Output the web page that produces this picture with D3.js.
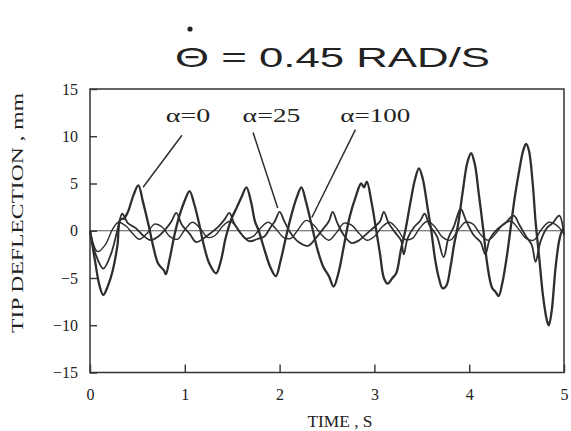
<!DOCTYPE html>
<html>
<head>
	<meta charset="UTF-8">
	<title>Tip deflection</title>
	<script src="https://d3js.org/d3.v7.min.js"></script>
	<style>
		body { margin: 0; background: #fff; }
		.frame { fill: none; stroke: #333; stroke-width: 1.5px; }
		.curve { fill: none; stroke: #2e2e2e; stroke-linejoin: round; }
		.tick line { stroke: #333; stroke-width: 1.4px; }
		.tick text { font-family: "Liberation Serif", serif; font-size: 16px; fill: #222; }
		.domain { display: none; }
	</style>
</head>
<body>
	<script>
		// values (time in s, deflection in mm)
		var alpha0T = [0, 0.05, 0.10, 0.14, 0.19, 0.24, 0.29, 0.32, 0.36, 0.40, 0.46, 0.51, 0.56, 0.62, 0.67, 0.72, 0.78, 0.80, 0.84, 0.89, 0.94, 1.00, 1.05, 1.10, 1.15, 1.20, 1.26, 1.33, 1.38, 1.43, 1.49, 1.55, 1.60, 1.65, 1.70, 1.74, 1.78, 1.84, 1.90, 1.96, 2.01, 2.06, 2.12, 2.18, 2.23, 2.28, 2.34, 2.40, 2.46, 2.52, 2.57, 2.62, 2.68, 2.74, 2.80, 2.86, 2.89, 2.92, 2.97, 3.02, 3.06, 3.10, 3.14, 3.19, 3.23, 3.28, 3.33, 3.38, 3.43, 3.47, 3.51, 3.56, 3.60, 3.64, 3.68, 3.72, 3.76, 3.80, 3.84, 3.88, 3.93, 3.98, 4.02, 4.06, 4.10, 4.15, 4.19, 4.24, 4.28, 4.31, 4.35, 4.40, 4.44, 4.48, 4.53, 4.57, 4.60, 4.63, 4.67, 4.70, 4.74, 4.78, 4.82, 4.84, 4.87, 4.91, 4.95, 4.98, 5.0];
		var alpha0V = [0, -3.0, -5.8, -6.8, -5.8, -4.2, -1.5, 1.2, 1.3, 2.0, 3.8, 4.8, 3.0, 0.5, -1.8, -3.5, -4.2, -4.6, -3.0, -0.5, 1.5, 3.2, 4.2, 2.8, 0.8, -1.5, -3.5, -4.5, -3.2, -0.8, 1.2, 2.5, 3.6, 4.6, 3.0, 1.0, 0.0, -2.0, -3.8, -4.8, -3.2, -1.0, 1.5, 3.5, 4.6, 3.0, 0.5, -2.0, -3.8, -4.8, -5.9, -4.5, -1.5, 1.5, 3.5, 5.0, 4.6, 5.2, 3.0, 0.0, -2.5, -5.0, -5.6, -5.0, -4.5, -2.0, 0.2, 3.0, 5.5, 6.6, 5.5, 2.5, 0.0, -3.0, -5.0, -6.1, -5.8, -4.0, -1.5, 0.5, 4.0, 7.2, 8.2, 7.0, 4.0, 0.0, -3.5, -6.0, -6.5, -6.9, -5.5, -2.5, 0.5, 3.5, 6.5, 8.5, 9.2, 8.5, 5.0, 1.0, -3.0, -7.0, -9.5, -10.0, -8.5, -4.0, -1.0, 0.0, 0.2];

		var alpha25T = [0, 0.06, 0.14, 0.22, 0.30, 0.34, 0.40, 0.48, 0.56, 0.64, 0.72, 0.80, 0.86, 0.91, 0.97, 1.05, 1.12, 1.20, 1.28, 1.36, 1.42, 1.47, 1.52, 1.60, 1.68, 1.76, 1.84, 1.90, 1.95, 2.00, 2.05, 2.12, 2.20, 2.30, 2.38, 2.46, 2.52, 2.56, 2.61, 2.68, 2.76, 2.84, 2.92, 3.00, 3.06, 3.10, 3.15, 3.22, 3.28, 3.31, 3.35, 3.42, 3.48, 3.53, 3.58, 3.66, 3.73, 3.78, 3.84, 3.91, 3.97, 4.05, 4.12, 4.17, 4.22, 4.30, 4.38, 4.47, 4.53, 4.60, 4.66, 4.70, 4.75, 4.82, 4.88, 4.95, 5.0];
		var alpha25V = [0, -2.5, -4.0, -2.5, 0.5, 1.8, 0.8, 0.3, -0.5, -1.0, -0.6, 0.2, 1.0, 1.9, 0.6, -0.3, -1.2, -0.8, -0.2, 0.5, 1.2, 1.9, 0.8, -0.4, -1.1, -0.9, -0.6, 0.3, 1.0, 2.0, 1.0, -0.3, -1.2, -1.6, -0.8, 0.2, 1.0, 2.0, 0.8, -0.5, -1.3, -1.0, -0.3, 0.4, 1.0, 2.0, 0.8, -0.2, -1.0, -2.5, -0.8, 0.4, 1.0, 1.8, 0.6, -0.6, -2.8, -0.8, 0.5, 2.3, 1.0, -0.5, -1.2, -2.5, -0.8, 0.2, 0.8, 1.6, 0.6, -0.6, -1.5, -3.3, -1.2, 0.3, 0.8, 1.6, -0.5];

		var alpha100T = [0, 0.08, 0.16, 0.24, 0.30, 0.38, 0.45, 0.52, 0.60, 0.68, 0.76, 0.84, 0.92, 1.00, 1.08, 1.16, 1.24, 1.32, 1.40, 1.48, 1.56, 1.64, 1.72, 1.80, 1.88, 1.96, 2.04, 2.12, 2.20, 2.28, 2.36, 2.44, 2.52, 2.60, 2.68, 2.76, 2.84, 2.92, 3.00, 3.08, 3.16, 3.24, 3.32, 3.40, 3.48, 3.56, 3.64, 3.72, 3.80, 3.88, 3.96, 4.04, 4.12, 4.20, 4.28, 4.36, 4.44, 4.52, 4.60, 4.68, 4.76, 4.84, 4.92, 5.0];
		var alpha100V = [0, -2.2, -1.5, 0.2, 0.9, 0.5, -0.3, -0.9, -0.3, 0.7, 0.4, -0.6, -0.9, 0.1, 0.9, 0.3, -0.7, -0.5, 0.5, 1.0, 0.2, -0.8, -0.6, 0.3, 0.9, 0.2, -0.7, -0.8, 0.2, 1.1, 0.6, -0.4, -1.0, -0.2, 0.8, 0.6, -0.3, -1.0, -0.6, 0.4, 0.9, 0.2, -0.9, -0.8, 0.3, 1.0, 0.4, -0.7, -1.0, 0.0, 0.9, 0.7, -0.4, -1.0, -0.3, 0.7, 1.0, 0.2, -0.8, -1.0, 0.1, 0.9, 0.6, -0.3];

		var xTicks = [0, 1, 2, 3, 4, 5];
		var yTicks = [-15, -10, -5, 0, 5, 10, 15];

		// label text, text start and end, leader line start and end (data units)
		var labels = ["\u03b1=0", "\u03b1=25", "\u03b1=100"];
		var labelPos = [[0.80, 11.5], [1.61, 11.5], [2.64, 11.5]];
		var labelEnd = [1.27, 2.22, 3.38];
		var leaderFrom = [[0.97, 10.1], [1.72, 10.4], [2.80, 10.7]];
		var leaderTo = [[0.56, 4.6], [1.98, 2.4], [2.34, 1.4]];

		var width = 571, height = 431;
		var margin = {top: 89, right: 7, bottom: 58.5, left: 90};

		var svg = d3.select("body").append("svg")
			.attr("width", width)
			.attr("height", height);

		var x = d3.scaleLinear().domain([0, 5]).range([margin.left, width - margin.right]);
		var y = d3.scaleLinear().domain([-15, 15]).range([height - margin.bottom, margin.top]);

		// title with a dot over theta
		svg.append("text")
			.attr("x", 175)
			.attr("y", 67)
			.attr("textLength", 315)
			.attr("lengthAdjust", "spacingAndGlyphs")
			.style("font-family", "'Liberation Sans', Arial, sans-serif")
			.style("font-size", "28px")
			.style("fill", "#222")
			.text("\u0398 = 0.45 RAD/S");
		svg.append("circle")
			.attr("cx", 190)
			.attr("cy", 29)
			.attr("r", 2.6)
			.style("fill", "#222");

		// zero line
		svg.append("line")
			.attr("x1", x(0)).attr("x2", x(5))
			.attr("y1", y(0)).attr("y2", y(0))
			.style("stroke", "#555")
			.style("stroke-width", 1.2);

		var line = d3.line()
			.x(function(d) { return x(d[0]); })
			.y(function(d) { return y(d[1]); })
			.curve(d3.curveCatmullRom.alpha(0.5));

		function pairs(ts, vs) {
			return ts.map(function(t, i) { return [t, vs[i]]; });
		}

		svg.append("path").attr("class", "curve")
			.attr("d", line(pairs(alpha100T, alpha100V)))
			.style("stroke-width", 1.4);
		svg.append("path").attr("class", "curve")
			.attr("d", line(pairs(alpha25T, alpha25V)))
			.style("stroke-width", 1.8);
		svg.append("path").attr("class", "curve")
			.attr("d", line(pairs(alpha0T, alpha0V)))
			.style("stroke-width", 2.3);

		// frame
		svg.append("rect").attr("class", "frame")
			.attr("x", x(0)).attr("y", y(15))
			.attr("width", x(5) - x(0))
			.attr("height", y(-15) - y(15));

		// axes, ticks pointing inward
		svg.append("g")
			.attr("transform", "translate(" + x(0) + ",0)")
			.call(d3.axisLeft(y).tickValues(yTicks).tickFormat(d3.format("d")).tickSize(-7).tickPadding(12));

		svg.append("g")
			.attr("transform", "translate(0," + y(-15) + ")")
			.call(d3.axisBottom(x).tickValues(xTicks).tickFormat(d3.format("d")).tickSize(-8).tickPadding(16));

		svg.append("text")
			.attr("x", 340)
			.attr("y", 427)
			.attr("text-anchor", "middle")
			.attr("textLength", 65)
			.attr("lengthAdjust", "spacingAndGlyphs")
			.style("font-family", "'Liberation Serif', serif")
			.style("font-size", "16px")
			.style("fill", "#222")
			.text("TIME , S");

		svg.append("text")
			.attr("transform", "translate(23,213) rotate(-90)")
			.attr("text-anchor", "middle")
			.attr("textLength", 240)
			.attr("lengthAdjust", "spacingAndGlyphs")
			.style("font-family", "'Liberation Serif', serif")
			.style("font-size", "16px")
			.style("fill", "#222")
			.text("TIP DEFLECTION , mm");

		// curve labels with leader lines
		labels.forEach(function(lab, i) {
			svg.append("text")
				.attr("x", x(labelPos[i][0]))
				.attr("y", y(labelPos[i][1]))
				.attr("textLength", x(labelEnd[i]) - x(labelPos[i][0]))
				.attr("lengthAdjust", "spacingAndGlyphs")
				.style("font-family", "'Liberation Serif', serif")
				.style("font-size", "18px")
				.style("fill", "#222")
				.text(lab);
			svg.append("line")
				.attr("x1", x(leaderFrom[i][0])).attr("y1", y(leaderFrom[i][1]))
				.attr("x2", x(leaderTo[i][0])).attr("y2", y(leaderTo[i][1]))
				.style("stroke", "#2e2e2e")
				.style("stroke-width", 1.5);
		});
	</script>
</body>
</html>
